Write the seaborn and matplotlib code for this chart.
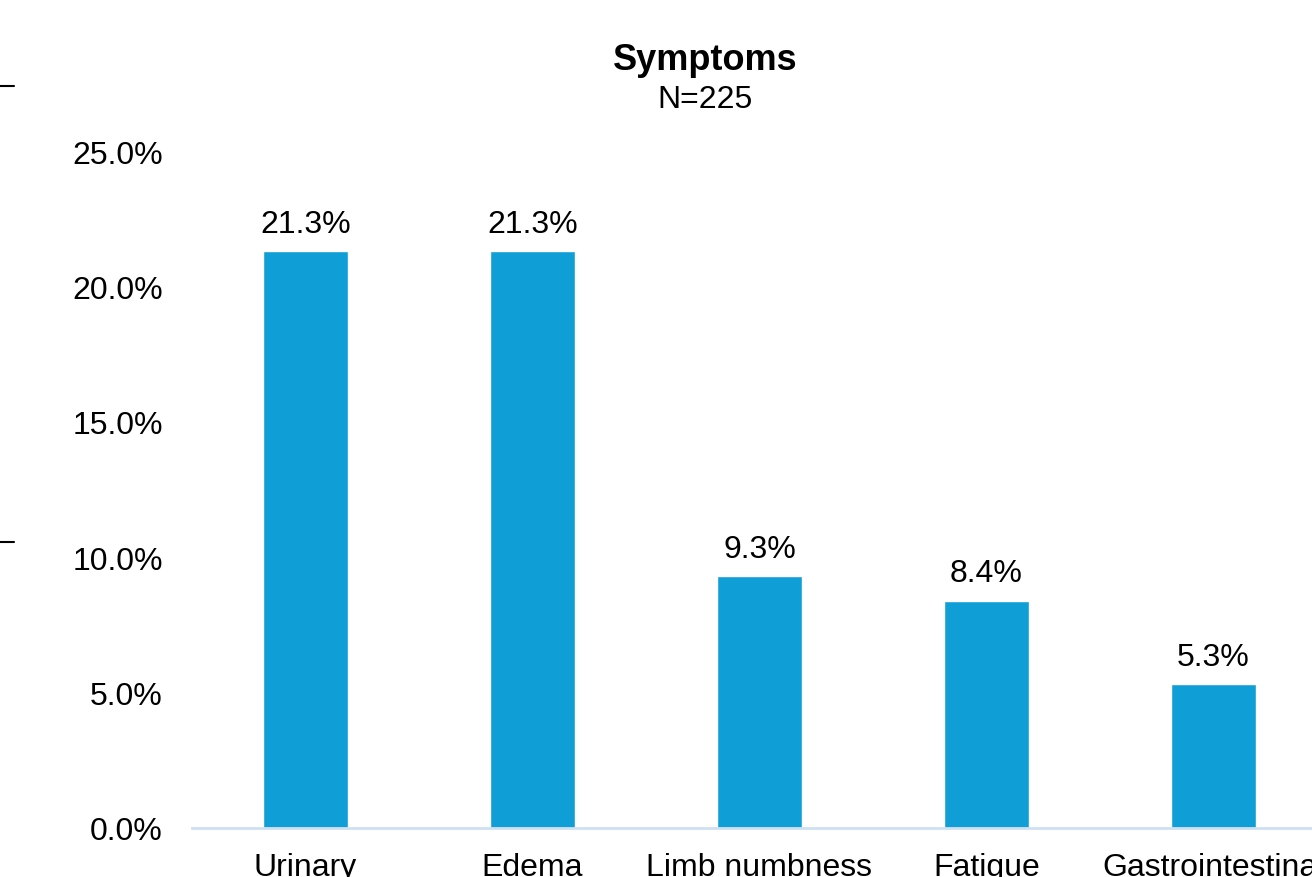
import seaborn as sns
import matplotlib.pyplot as plt
from matplotlib.lines import Line2D
import pandas as pd

categories = ['Urinary', 'Edema', 'Limb numbness', 'Fatigue', 'Gastrointestinal']
percent = [21.3, 21.3, 9.3, 8.4, 5.3]
y_ticks = [0, 5, 10, 15, 20, 25]

sns.set_theme(style='white')
plt.rcParams['font.family'] = ['Liberation Sans', 'DejaVu Sans']

df = pd.DataFrame({'symptom': categories, 'pct': percent})

fig = plt.figure(figsize=(13.12, 8.78), dpi=100)
ax = fig.add_axes([192 / 1312, 49 / 878, (1327 - 192) / 1312, (829 - 152) / 878])

sns.barplot(x='symptom', y='pct', data=df, color='#109ED6', saturation=1,
            width=85 / 227, ax=ax)

for c in ax.containers:
    ax.bar_label(c, labels=[f'{v:.1f}%' for v in percent], padding=9,
                 fontsize=23, color='#000000')

ax.set_xlim(-0.5, 4.5)
ax.set_ylim(0, 25)
ax.set_yticks(y_ticks)
ax.set_yticklabels([f'{t:.1f}%' for t in y_ticks])
ax.tick_params(axis='y', length=0, pad=21, labelsize=23, labelcolor='#000000')
ax.tick_params(axis='x', length=0, pad=17, labelsize=23, labelcolor='#000000')
ax.set_xlabel('')
ax.set_ylabel('')
for s in ['top', 'right', 'left']:
    ax.spines[s].set_visible(False)
ax.spines['bottom'].set_color('#CFE0F2')
ax.spines['bottom'].set_linewidth(2)
ax.spines['bottom'].set_clip_on(False)

fig.text(705 / 1312, 1 - 60 / 878, 'Symptoms', ha='center', va='center',
         fontsize=26, fontweight='bold', color='#000000')
fig.text(705 / 1312, 1 - 100 / 878, 'N=225', ha='center', va='center',
         fontsize=23, color='#000000')

# stray tick marks at the left edge of the crop
for yy in [87, 543]:
    fig.add_artist(Line2D([0, 14 / 1312], [1 - yy / 878, 1 - yy / 878],
                          color='black', lw=1.5, transform=fig.transFigure))

plt.savefig('out.png', dpi=100)
plt.close()
